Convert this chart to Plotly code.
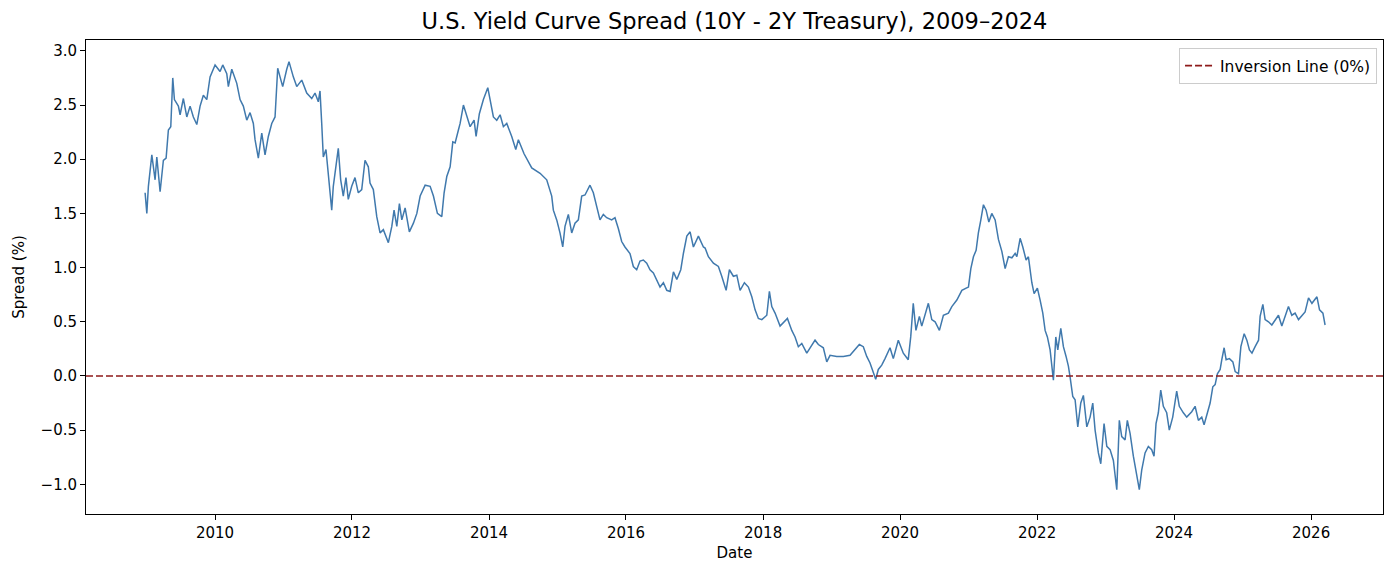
import pandas as pd
import plotly.graph_objects as go

obs_year = [
    2008.978, 2009.003, 2009.026, 2009.076, 2009.124, 2009.149, 2009.197, 2009.245, 2009.285, 2009.318,
    2009.353, 2009.382, 2009.406, 2009.464, 2009.489, 2009.537, 2009.587, 2009.635, 2009.683, 2009.733,
    2009.781, 2009.829, 2009.879, 2009.927, 2010.000, 2010.073, 2010.112, 2010.171, 2010.194, 2010.244,
    2010.317, 2010.365, 2010.413, 2010.463, 2010.511, 2010.559, 2010.584, 2010.632, 2010.682, 2010.730,
    2010.778, 2010.828, 2010.876, 2010.915, 2010.949, 2010.988, 2011.047, 2011.080, 2011.143, 2011.193,
    2011.266, 2011.339, 2011.412, 2011.460, 2011.508, 2011.533, 2011.558, 2011.581, 2011.620, 2011.654,
    2011.704, 2011.727, 2011.766, 2011.800, 2011.835, 2011.873, 2011.912, 2011.946, 2011.996, 2012.044,
    2012.092, 2012.142, 2012.190, 2012.238, 2012.263, 2012.311, 2012.361, 2012.409, 2012.457, 2012.530,
    2012.580, 2012.613, 2012.653, 2012.691, 2012.726, 2012.774, 2012.836, 2012.895, 2012.945, 2012.993,
    2013.066, 2013.139, 2013.187, 2013.245, 2013.309, 2013.343, 2013.382, 2013.431, 2013.470, 2013.504,
    2013.552, 2013.577, 2013.625, 2013.674, 2013.723, 2013.781, 2013.810, 2013.858, 2013.917, 2013.981,
    2014.015, 2014.063, 2014.112, 2014.161, 2014.209, 2014.258, 2014.331, 2014.390, 2014.428, 2014.511,
    2014.623, 2014.745, 2014.842, 2014.915, 2014.939, 2014.988, 2015.036, 2015.076, 2015.109, 2015.158,
    2015.207, 2015.255, 2015.304, 2015.353, 2015.401, 2015.435, 2015.474, 2015.523, 2015.572, 2015.620,
    2015.669, 2015.718, 2015.791, 2015.839, 2015.888, 2015.937, 2015.985, 2016.058, 2016.107, 2016.156,
    2016.204, 2016.253, 2016.302, 2016.350, 2016.399, 2016.448, 2016.496, 2016.545, 2016.594, 2016.642,
    2016.691, 2016.740, 2016.798, 2016.836, 2016.886, 2016.934, 2016.982, 2017.055, 2017.128, 2017.153,
    2017.201, 2017.274, 2017.347, 2017.396, 2017.460, 2017.508, 2017.566, 2017.616, 2017.664, 2017.727,
    2017.785, 2017.835, 2017.883, 2017.931, 2017.981, 2018.054, 2018.092, 2018.127, 2018.175, 2018.248,
    2018.296, 2018.355, 2018.419, 2018.467, 2018.515, 2018.565, 2018.638, 2018.711, 2018.759, 2018.807,
    2018.880, 2018.930, 2018.978, 2019.076, 2019.172, 2019.270, 2019.343, 2019.406, 2019.464, 2019.514,
    2019.562, 2019.610, 2019.645, 2019.683, 2019.733, 2019.781, 2019.854, 2019.902, 2019.975, 2020.048,
    2020.120, 2020.156, 2020.193, 2020.232, 2020.282, 2020.317, 2020.365, 2020.413, 2020.463, 2020.511,
    2020.574, 2020.632, 2020.705, 2020.755, 2020.828, 2020.901, 2020.964, 2020.997, 2021.032, 2021.070,
    2021.109, 2021.142, 2021.178, 2021.216, 2021.255, 2021.295, 2021.338, 2021.387, 2021.435, 2021.485,
    2021.533, 2021.581, 2021.631, 2021.679, 2021.704, 2021.752, 2021.791, 2021.839, 2021.873, 2021.923,
    2021.956, 2022.004, 2022.044, 2022.083, 2022.117, 2022.150, 2022.190, 2022.238, 2022.273, 2022.302,
    2022.346, 2022.384, 2022.423, 2022.457, 2022.482, 2022.521, 2022.555, 2022.594, 2022.638, 2022.676,
    2022.726, 2022.774, 2022.813, 2022.847, 2022.895, 2022.930, 2022.978, 2023.018, 2023.066, 2023.114,
    2023.164, 2023.201, 2023.236, 2023.285, 2023.318, 2023.358, 2023.406, 2023.445, 2023.493, 2023.528,
    2023.577, 2023.625, 2023.674, 2023.708, 2023.737, 2023.771, 2023.806, 2023.844, 2023.893, 2023.931,
    2023.981, 2024.039, 2024.077, 2024.136, 2024.185, 2024.258, 2024.307, 2024.355, 2024.404, 2024.438,
    2024.486, 2024.526, 2024.565, 2024.599, 2024.632, 2024.672, 2024.696, 2024.730, 2024.759, 2024.807,
    2024.857, 2024.891, 2024.939, 2024.974, 2025.022, 2025.061, 2025.099, 2025.136, 2025.182, 2025.232,
    2025.255, 2025.295, 2025.328, 2025.377, 2025.426, 2025.474, 2025.523, 2025.572, 2025.620, 2025.669,
    2025.718, 2025.766, 2025.816, 2025.866, 2025.912, 2025.962, 2026.012, 2026.085, 2026.123, 2026.172,
    2026.204,
]

spread = [
    1.69, 1.50, 1.75, 2.04, 1.81, 2.02, 1.70, 1.99, 2.01, 2.27,
    2.30, 2.75, 2.55, 2.49, 2.41, 2.56, 2.39, 2.49, 2.39, 2.32,
    2.49, 2.59, 2.55, 2.76, 2.87, 2.81, 2.87, 2.79, 2.67, 2.83,
    2.70, 2.55, 2.49, 2.36, 2.43, 2.33, 2.18, 2.01, 2.24, 2.04,
    2.21, 2.33, 2.39, 2.84, 2.76, 2.67, 2.83, 2.90, 2.76, 2.67,
    2.73, 2.61, 2.56, 2.61, 2.53, 2.63, 2.33, 2.02, 2.09, 1.87,
    1.53, 1.75, 1.96, 2.10, 1.81, 1.66, 1.83, 1.63, 1.75, 1.83,
    1.69, 1.72, 1.99, 1.93, 1.78, 1.72, 1.47, 1.32, 1.35, 1.23,
    1.38, 1.53, 1.38, 1.59, 1.44, 1.55, 1.33, 1.41, 1.50, 1.66,
    1.76, 1.75, 1.66, 1.50, 1.47, 1.69, 1.84, 1.93, 2.16, 2.15,
    2.27, 2.33, 2.50, 2.39, 2.30, 2.36, 2.21, 2.42, 2.55, 2.66,
    2.55, 2.39, 2.36, 2.41, 2.30, 2.33, 2.21, 2.09, 2.18, 2.05,
    1.92, 1.87, 1.81, 1.66, 1.53, 1.44, 1.32, 1.19, 1.38, 1.49,
    1.32, 1.41, 1.44, 1.66, 1.67, 1.72, 1.76, 1.69, 1.56, 1.44,
    1.49, 1.46, 1.44, 1.46, 1.36, 1.24, 1.19, 1.13, 1.01, 0.98,
    1.06, 1.07, 1.04, 0.98, 0.95, 0.89, 0.82, 0.86, 0.79, 0.78,
    0.96, 0.89, 0.98, 1.13, 1.29, 1.33, 1.19, 1.29, 1.19, 1.18,
    1.10, 1.04, 1.01, 0.92, 0.79, 0.98, 0.92, 0.93, 0.79, 0.86,
    0.82, 0.73, 0.61, 0.53, 0.52, 0.56, 0.78, 0.64, 0.58, 0.46,
    0.49, 0.53, 0.42, 0.36, 0.27, 0.30, 0.21, 0.29, 0.33, 0.29,
    0.26, 0.13, 0.19, 0.18, 0.18, 0.19, 0.24, 0.29, 0.27, 0.18,
    0.12, 0.02, -0.03, 0.06, 0.10, 0.16, 0.26, 0.16, 0.33, 0.21,
    0.15, 0.36, 0.67, 0.42, 0.55, 0.46, 0.56, 0.67, 0.52, 0.50,
    0.42, 0.56, 0.58, 0.64, 0.70, 0.79, 0.81, 0.82, 0.99, 1.10,
    1.16, 1.32, 1.44, 1.58, 1.53, 1.42, 1.50, 1.44, 1.26, 1.15,
    0.99, 1.10, 1.09, 1.13, 1.10, 1.27, 1.19, 1.07, 1.10, 0.86,
    0.76, 0.81, 0.70, 0.58, 0.42, 0.36, 0.24, -0.04, 0.36, 0.24,
    0.44, 0.27, 0.18, 0.09, -0.01, -0.19, -0.22, -0.47, -0.25, -0.18,
    -0.47, -0.38, -0.25, -0.50, -0.71, -0.81, -0.44, -0.65, -0.68, -0.78,
    -1.05, -0.41, -0.56, -0.59, -0.41, -0.53, -0.74, -0.87, -1.05, -0.87,
    -0.71, -0.65, -0.68, -0.74, -0.44, -0.34, -0.13, -0.28, -0.34, -0.50,
    -0.38, -0.14, -0.28, -0.34, -0.38, -0.33, -0.28, -0.41, -0.38, -0.45,
    -0.34, -0.25, -0.10, -0.08, 0.02, 0.06, 0.15, 0.26, 0.15, 0.16,
    0.13, 0.04, 0.02, 0.27, 0.39, 0.33, 0.24, 0.21, 0.27, 0.33,
    0.55, 0.66, 0.52, 0.50, 0.47, 0.52, 0.56, 0.46, 0.56, 0.64,
    0.56, 0.58, 0.52, 0.56, 0.59, 0.72, 0.67, 0.73, 0.61, 0.58,
    0.47,
]

y_ticks = [-1.0, -0.5, 0.0, 0.5, 1.0, 1.5, 2.0, 2.5, 3.0]
x_tick_years = [2010, 2012, 2014, 2016, 2018, 2020, 2022, 2024, 2026]
inversion_level = 0.0


def to_date(dec):
    y = int(dec // 1)
    start = pd.Timestamp(year=y, month=1, day=1)
    end = pd.Timestamp(year=y + 1, month=1, day=1)
    return start + (end - start) * (dec - y)


dates = [to_date(v) for v in obs_year]
x_range = [to_date(2008.117), to_date(2027.05)]

FONT = "DejaVu Sans"

fig = go.Figure()
fig.add_trace(go.Scatter(
    x=dates, y=spread, mode="lines",
    line=dict(color="#4079ad", width=1.5),
    showlegend=False, name="Spread",
))
fig.add_trace(go.Scatter(
    x=x_range, y=[inversion_level, inversion_level], mode="lines",
    line=dict(color="#8e1a1a", width=1.6, dash="7px,3px"),
    name="Inversion Line (0%)", showlegend=True,
))

fig.update_layout(
    width=1386, height=562,
    margin=dict(l=86, r=3, t=40, b=48),
    paper_bgcolor="white", plot_bgcolor="white",
    font=dict(family=FONT, size=15, color="black"),
    title=dict(
        text="U.S. Yield Curve Spread (10Y - 2Y Treasury), 2009–2024",
        x=734.5 / 1386, xanchor="center",
        y=1 - 21 / 562, yanchor="middle", yref="container",
        font=dict(family=FONT, size=22.5, color="black"),
    ),
    legend=dict(
        x=0.9954, y=0.983, xanchor="right", yanchor="top",
        bgcolor="rgba(255,255,255,0.8)", bordercolor="#cccccc", borderwidth=1,
        font=dict(family=FONT, size=15.5, color="black"),
    ),
    showlegend=True,
)

fig.update_xaxes(
    type="date", range=x_range,
    tickvals=[pd.Timestamp(year=y, month=1, day=1) for y in x_tick_years],
    ticktext=[str(y) for y in x_tick_years],
    ticks="outside", ticklen=5, tickwidth=1, tickcolor="black",
    showline=True, linecolor="black", linewidth=1, mirror=True,
    showgrid=False, zeroline=False,
    title=dict(text="Date", standoff=6, font=dict(family=FONT, size=15)),
    tickfont=dict(family=FONT, size=15),
)
fig.update_yaxes(
    range=[-1.274, 3.10],
    tickvals=y_ticks, ticktext=[f"{v:.1f}".replace("-", "\u2212") for v in y_ticks],
    ticks="outside", ticklen=5, tickwidth=1, tickcolor="black",
    showline=True, linecolor="black", linewidth=1, mirror=True,
    showgrid=False, zeroline=False,
    title=dict(text="Spread (%)", standoff=12, font=dict(family=FONT, size=15)),
    tickfont=dict(family=FONT, size=15),
)

fig.write_html("out.html")
